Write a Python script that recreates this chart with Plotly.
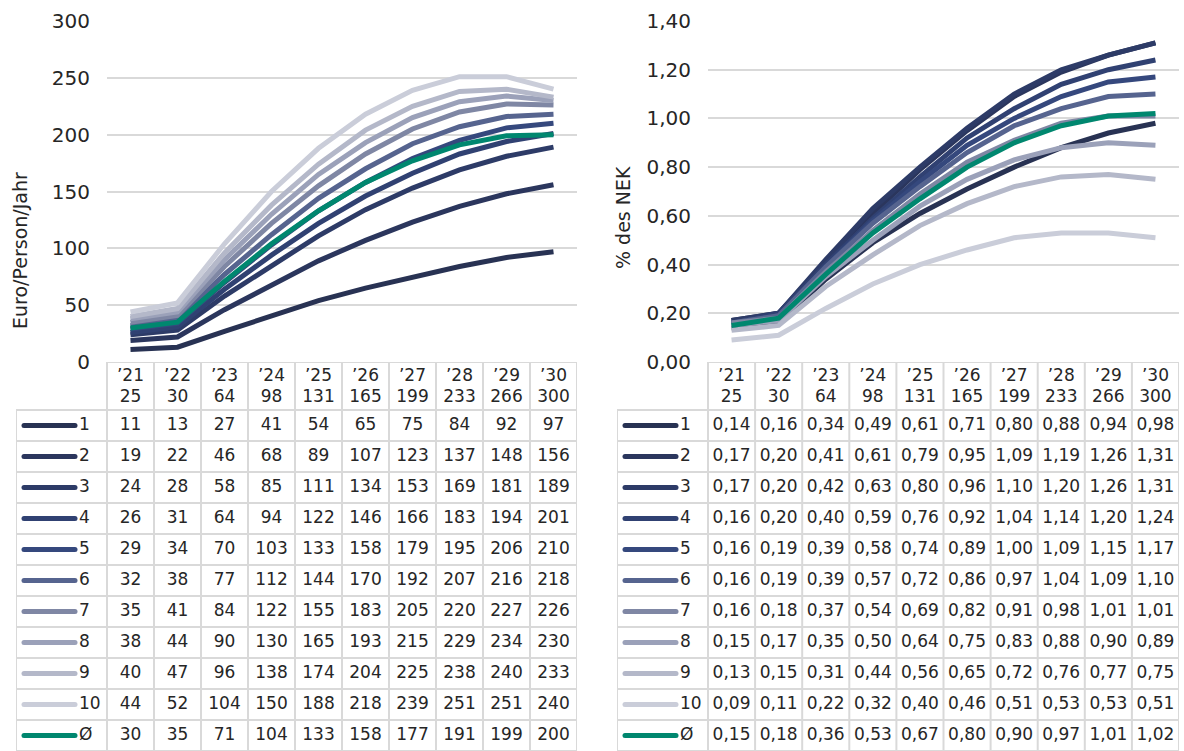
import plotly.graph_objects as go

# ---------------- data ----------------
years = ["’21", "’22", "’23", "’24", "’25", "’26", "’27", "’28", "’29", "’30"]
co2_price = [25, 30, 64, 98, 131, 165, 199, 233, 266, 300]
series_names = ["1", "2", "3", "4", "5", "6", "7", "8", "9", "10", "Ø"]

euro_1 = [11, 13, 27, 41, 54, 65, 75, 84, 92, 97]
euro_2 = [19, 22, 46, 68, 89, 107, 123, 137, 148, 156]
euro_3 = [24, 28, 58, 85, 111, 134, 153, 169, 181, 189]
euro_4 = [26, 31, 64, 94, 122, 146, 166, 183, 194, 201]
euro_5 = [29, 34, 70, 103, 133, 158, 179, 195, 206, 210]
euro_6 = [32, 38, 77, 112, 144, 170, 192, 207, 216, 218]
euro_7 = [35, 41, 84, 122, 155, 183, 205, 220, 227, 226]
euro_8 = [38, 44, 90, 130, 165, 193, 215, 229, 234, 230]
euro_9 = [40, 47, 96, 138, 174, 204, 225, 238, 240, 233]
euro_10 = [44, 52, 104, 150, 188, 218, 239, 251, 251, 240]
euro_avg = [30, 35, 71, 104, 133, 158, 177, 191, 199, 200]

nek_1 = [0.14, 0.16, 0.34, 0.49, 0.61, 0.71, 0.80, 0.88, 0.94, 0.98]
nek_2 = [0.17, 0.20, 0.41, 0.61, 0.79, 0.95, 1.09, 1.19, 1.26, 1.31]
nek_3 = [0.17, 0.20, 0.42, 0.63, 0.80, 0.96, 1.10, 1.20, 1.26, 1.31]
nek_4 = [0.16, 0.20, 0.40, 0.59, 0.76, 0.92, 1.04, 1.14, 1.20, 1.24]
nek_5 = [0.16, 0.19, 0.39, 0.58, 0.74, 0.89, 1.00, 1.09, 1.15, 1.17]
nek_6 = [0.16, 0.19, 0.39, 0.57, 0.72, 0.86, 0.97, 1.04, 1.09, 1.10]
nek_7 = [0.16, 0.18, 0.37, 0.54, 0.69, 0.82, 0.91, 0.98, 1.01, 1.01]
nek_8 = [0.15, 0.17, 0.35, 0.50, 0.64, 0.75, 0.83, 0.88, 0.90, 0.89]
nek_9 = [0.13, 0.15, 0.31, 0.44, 0.56, 0.65, 0.72, 0.76, 0.77, 0.75]
nek_10 = [0.09, 0.11, 0.22, 0.32, 0.40, 0.46, 0.51, 0.53, 0.53, 0.51]
nek_avg = [0.15, 0.18, 0.36, 0.53, 0.67, 0.80, 0.90, 0.97, 1.01, 1.02]

colors = ["#283253", "#2b365d", "#2d3b67", "#304172", "#35487d", "#56648f",
          "#7f87a4", "#9ba1b9", "#b4b8c9", "#cacdd9", "#00876f"]

euro_series = [euro_1, euro_2, euro_3, euro_4, euro_5, euro_6, euro_7,
               euro_8, euro_9, euro_10, euro_avg]
nek_series = [nek_1, nek_2, nek_3, nek_4, nek_5, nek_6, nek_7,
              nek_8, nek_9, nek_10, nek_avg]

# ---------------- layout geometry (pixels) ----------------
W, H = 1184, 751
FONT = "DejaVu Sans"
TXT = "#262626"
GRID = "#d9d9d9"
CELL_SIZE = 17


def fx(p):
    return p / W


def fy(p):
    return 1 - p / H


PLOT_TOP, PLOT_BOT = 21, 362
ROW_H, HEAD_H = 31, 48

panels = [
    dict(series=euro_series, left=107, right=577, leg_left=16,
         yrange=[0, 300], dtick=50, fmt=lambda v: f"{v:d}", tickformat="d",
         title="Euro/Person/Jahr", title_x=20, title_y=251),
    dict(series=nek_series, left=708, right=1179, leg_left=617,
         yrange=[0, 1.4], dtick=0.2, fmt=lambda v: f"{v:.2f}".replace(".", ","),
         tickformat=".2f", title="% des NEK", title_x=623, title_y=218),
]

fig = go.Figure()
layout = dict(
    width=W, height=H, margin=dict(l=0, r=0, t=0, b=0, autoexpand=False),
    paper_bgcolor="white", plot_bgcolor="white", showlegend=False,
    separators=",.", font=dict(family=FONT, color=TXT, size=CELL_SIZE),
)
shapes = []
annotations = []

n_rows = len(series_names)
n_cols = len(years)

for k, p in enumerate(panels):
    ci = 2 * k + 1        # chart axis index
    ti = 2 * k + 2        # table axis index
    cx = "x" if ci == 1 else f"x{ci}"
    cy = "y" if ci == 1 else f"y{ci}"
    tx, ty = f"x{ti}", f"y{ti}"
    cw = (p["right"] - p["left"]) / n_cols
    L = (p["left"] - p["leg_left"]) / cw

    # chart lines
    for name, vals, col in zip(series_names, p["series"], colors):
        fig.add_trace(go.Scatter(x=years, y=vals, mode="lines", name=name,
                                 line=dict(color=col, width=5),
                                 xaxis=cx, yaxis=cy, hoverinfo="skip"))

    layout[f"xaxis{'' if ci == 1 else ci}"] = dict(
        domain=[fx(p["left"]), fx(p["right"])], type="category",
        categoryorder="array", categoryarray=years, range=[-0.5, n_cols - 0.5],
        showgrid=False, showline=False, zeroline=False, showticklabels=False,
        anchor=cy, fixedrange=True, automargin=False)
    layout[f"yaxis{'' if ci == 1 else ci}"] = dict(
        domain=[fy(PLOT_BOT), fy(PLOT_TOP)], range=p["yrange"], dtick=p["dtick"],
        tick0=0, tickformat=p["tickformat"], showgrid=True, gridcolor=GRID,
        gridwidth=2, zeroline=False, showline=False, ticks="",
        ticklabelstandoff=16, tickfont=dict(size=20, color=TXT, family=FONT),
        anchor=cx, fixedrange=True, automargin=False)

    # table axes
    head_units = HEAD_H / ROW_H
    layout[f"xaxis{ti}"] = dict(
        domain=[fx(p["leg_left"]), fx(p["right"])], range=[-L, n_cols],
        visible=False, anchor=ty, fixedrange=True, automargin=False)
    layout[f"yaxis{ti}"] = dict(
        domain=[0, fy(PLOT_BOT)], range=[n_rows, -head_units],
        visible=False, anchor=tx, fixedrange=True, automargin=False)

    tf = dict(size=CELL_SIZE, color=TXT, family=FONT)
    # header text (two lines)
    cols_c = [i + 0.5 for i in range(n_cols)]
    fig.add_trace(go.Scatter(x=cols_c, y=[-head_units + 15 / ROW_H] * n_cols,
                             text=years, mode="text", xaxis=tx, yaxis=ty,
                             textfont=tf, hoverinfo="skip", cliponaxis=False))
    fig.add_trace(go.Scatter(x=cols_c, y=[-head_units + 36 / ROW_H] * n_cols,
                             text=[str(c) for c in co2_price], mode="text",
                             xaxis=tx, yaxis=ty, textfont=tf,
                             hoverinfo="skip", cliponaxis=False))

    # cell values
    xs, ys, ts = [], [], []
    for r, vals in enumerate(p["series"]):
        for i, v in enumerate(vals):
            xs.append(i + 0.5)
            ys.append(r + 0.5)
            ts.append(p["fmt"](v))
    fig.add_trace(go.Scatter(x=xs, y=ys, text=ts, mode="text", xaxis=tx,
                             yaxis=ty, textfont=tf, hoverinfo="skip",
                             cliponaxis=False))

    # legend labels
    fig.add_trace(go.Scatter(x=[-L + 63 / cw] * n_rows,
                             y=[r + 0.5 for r in range(n_rows)],
                             text=series_names, mode="text",
                             textposition="middle right", xaxis=tx, yaxis=ty,
                             textfont=tf, hoverinfo="skip", cliponaxis=False))

    # legend swatches (line with rounded ends)
    for r, col in enumerate(colors):
        x0, x1 = -L + 8 / cw, -L + 59 / cw
        shapes.append(dict(type="line", xref=tx, yref=ty,
                           x0=x0, x1=x1, y0=r + 0.5, y1=r + 0.5,
                           line=dict(color=col, width=5), layer="above"))
        for xe in (x0, x1):
            shapes.append(dict(type="circle", xref=tx, yref=ty,
                               xsizemode="pixel", ysizemode="pixel",
                               xanchor=xe, yanchor=r + 0.5,
                               x0=-2.5, x1=2.5, y0=-2.5, y1=2.5,
                               fillcolor=col, line=dict(width=0), layer="above"))

    # table grid lines
    gl = dict(color=GRID, width=2)
    shapes.append(dict(type="line", xref=tx, yref=ty, x0=0, x1=n_cols,
                       y0=-head_units, y1=-head_units, line=gl, layer="below"))
    for r in range(n_rows + 1):
        shapes.append(dict(type="line", xref=tx, yref=ty, x0=-L, x1=n_cols,
                           y0=r, y1=r, line=gl, layer="below"))
    shapes.append(dict(type="line", xref=tx, yref=ty, x0=-L, x1=-L,
                       y0=0, y1=n_rows, line=gl, layer="below"))
    for i in range(n_cols + 1):
        shapes.append(dict(type="line", xref=tx, yref=ty, x0=i, x1=i,
                           y0=-head_units, y1=n_rows, line=gl, layer="below"))

    # y-axis title
    annotations.append(dict(text=p["title"], xref="paper", yref="paper",
                            x=fx(p["title_x"]), y=fy(p["title_y"]),
                            xanchor="center", yanchor="middle", textangle=-90,
                            showarrow=False,
                            font=dict(size=19, color=TXT, family=FONT)))

layout["shapes"] = shapes
layout["annotations"] = annotations
fig.update_layout(**layout)
fig.write_html(
    "out.html",
    config={"displayModeBar": False},
    post_script="document.body.style.margin='0';document.body.style.overflow='hidden';",
)
